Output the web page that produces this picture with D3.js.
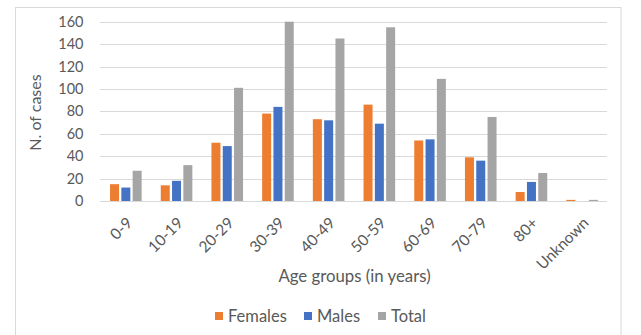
<!DOCTYPE html>
<html><head><meta charset="utf-8">
<script src="https://cdn.jsdelivr.net/npm/d3@7"></script>
<style>
html,body{margin:0;padding:0;background:#fff;}
svg{display:block;font-family:Lato,"Open Sans",sans-serif;}
</style></head>
<body>
<script>
const categories = ["0-9","10-19","20-29","30-39","40-49","50-59","60-69","70-79","80+","Unknown"];
const females = [15,14,52,78,73,86,54,39,8,1];
const males   = [12,18,49,84,72,69,55,36,17,0];
const total   = [27,32,101,160,145,155,109,75,25,1];
const seriesNames = ["Females","Males","Total"];
const seriesColors = ["#ED7D31","#4472C4","#A5A5A5"];
const yTicks = [0,20,40,60,80,100,120,140,160];

(function(){
const W = 641, H = 335;
const svg = d3.select("body").append("svg").attr("width",W).attr("height",H);

svg.append("rect").attr("x",15.5).attr("y",7.5).attr("width",605.5).attr("height",340)
  .attr("fill","none").attr("stroke","#d9d9d9").attr("stroke-width",1);

const pLeft = 100, pRight = 607, pTop = 21.7, pBottom = 201;
const x = d3.scaleBand().domain(categories).range([pLeft,pRight]).padding(0);
const y = d3.scaleLinear().domain([0,160]).range([pBottom,pTop]);

svg.append("g").selectAll("line").data(yTicks).join("line")
  .attr("x1",pLeft).attr("x2",pRight)
  .attr("y1",d=>Math.round(y(d))+0.5).attr("y2",d=>Math.round(y(d))+0.5)
  .attr("stroke","#d9d9d9").attr("stroke-width",1);

const yAxis = d3.axisLeft(y).tickValues(yTicks).tickSize(0).tickPadding(0);
const gy = svg.append("g").attr("transform",`translate(${83.5},0)`).call(yAxis);
gy.select(".domain").remove();
gy.selectAll("text").attr("fill","#595959").style("font-size","14.5px").attr("font-family","Lato");

const data = [females, males, total];
const barW = 9, step = 11.3;
const inner = d3.scaleBand().domain(seriesNames).range([-step*1.5, step*1.5]);
seriesNames.forEach((s,si)=>{
  svg.append("g").selectAll("rect").data(categories).join("rect")
    .attr("x",(c)=>x(c)+x.bandwidth()/2+inner(s)+(step-barW)/2+0.5)
    .attr("width",barW)
    .attr("y",(c,i)=>y(data[si][i]))
    .attr("height",(c,i)=>pBottom-y(data[si][i]))
    .attr("fill",seriesColors[si]);
});

svg.append("line").attr("x1",pLeft).attr("x2",pRight).attr("y1",pBottom+0.5).attr("y2",pBottom+0.5)
  .attr("stroke","#d9d9d9").attr("stroke-width",1);

const xAxis = d3.axisBottom(x).tickSize(0).tickPadding(0);
const gx = svg.append("g").attr("transform",`translate(0,${pBottom})`).call(xAxis);
gx.select(".domain").remove();
gx.selectAll("text")
  .attr("fill","#595959").style("font-size","15.5px").attr("font-family","Lato")
  .attr("text-anchor","end")
  .attr("dy",null).attr("y",0)
  .attr("transform","translate(8,23) rotate(-45)");

svg.append("text").attr("x",(pLeft+pRight)/2+1).attr("y",282)
  .attr("text-anchor","middle").attr("fill","#595959").style("font-size","16.8px")
  .text("Age groups (in years)");
svg.append("text").attr("transform",`translate(41,112.5) rotate(-90)`)
  .attr("text-anchor","middle").attr("fill","#595959").style("font-size","16px")
  .text("N. of cases");

const legX = [215, 304, 378];
const lg = svg.append("g");
seriesNames.forEach((s,i)=>{
  lg.append("rect").attr("x",legX[i]).attr("y",312).attr("width",8).attr("height",8).attr("fill",seriesColors[i]);
  lg.append("text").attr("x",legX[i]+13).attr("y",321.5).attr("fill","#595959")
    .style("font-size","16.5px").text(s);
});
})();
</script>
</body></html>
